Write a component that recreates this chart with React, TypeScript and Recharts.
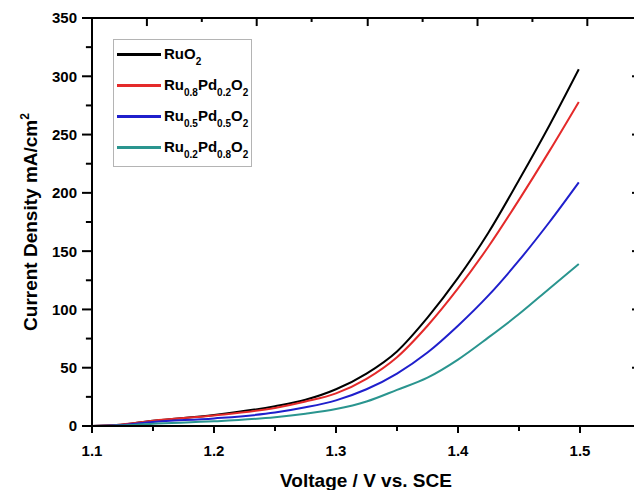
import React from "react";
import { LineChart, Line, XAxis, YAxis, Legend, ReferenceLine } from "recharts";

// values
const voltage = [1.1, 1.12, 1.15, 1.2, 1.25, 1.275, 1.3, 1.325, 1.35, 1.375, 1.4, 1.425, 1.45, 1.475, 1.499];
const ruO2 = [0, 0.8, 4.5, 9.5, 17, 22.5, 31.5, 45, 64, 93, 127, 166, 211, 258, 306];
const ru08Pd02 = [0, 0.8, 4.5, 9, 15.5, 21, 28, 40.5, 59, 86, 118, 154, 194, 236, 278];
const ru05Pd05 = [0, 0.6, 3.5, 6.5, 11.5, 16, 22, 31.5, 45, 63, 86, 112, 142, 175, 209];
const ru02Pd08 = [0, 0.4, 2, 4, 7.5, 10.5, 14.5, 21, 31, 41.5, 57, 76, 96, 118, 139];

const seriesNames = ["RuO2", "Ru0.8Pd0.2O2", "Ru0.5Pd0.5O2", "Ru0.2Pd0.8O2"];
const seriesKeys = ["a", "b", "c", "d"];
const seriesColors = ["#000000", "#e42a2a", "#1f1fcc", "#2a958f"];

const xTicks = [1.1, 1.15, 1.2, 1.25, 1.3, 1.35, 1.4, 1.45, 1.5];
const yTicks = [0, 25, 50, 75, 100, 125, 150, 175, 200, 225, 250, 275, 300, 325, 350];
const topTicks = [1.145, 1.19, 1.235, 1.28, 1.326, 1.371, 1.416, 1.461, 1.506];
const rightTicks = [50, 100, 150, 200, 250, 300];

const X_MIN = 1.1;
const X_MAX = 1.55;
const Y_MAX = 350;

const data = voltage.map((v, i) => ({
  v,
  a: ruO2[i],
  b: ru08Pd02[i],
  c: ru05Pd05[i],
  d: ru02Pd08[i],
}));

const font = "'Liberation Sans', Arial, Helvetica, sans-serif";
const isMajorX = (v: number) => Math.abs(v * 10 - Math.round(v * 10)) < 1e-6;
const frame = { stroke: "#000", strokeWidth: 2 };

// tick lengths, in axis units (about 1220 px per volt, 1.166 px per mA/cm2)
const bottomLen = (v: number) => (isMajorX(v) ? 6 : 4.3);
const leftLen = (v: number) => (v % 50 === 0 ? 0.0082 : 0.005);
const topLen = (i: number) => (i % 2 === 0 ? 6.9 : 3.4);
const rightLen = 0.0074;

const BottomTick = (props: any) => {
  const { x, y, payload } = props;
  if (!isMajorX(payload.value)) return <g />;
  return (
    <text x={x} y={y} dy="0.71em" textAnchor="middle" fontFamily={font} fontWeight={700} fontSize={15} fill="#000">
      {payload.value.toFixed(1)}
    </text>
  );
};

const LeftTick = (props: any) => {
  const { x, y, payload } = props;
  if (payload.value % 50 !== 0) return <g />;
  return (
    <text x={x} y={y} dy="0.36em" textAnchor="end" fontFamily={font} fontWeight={700} fontSize={15} fill="#000">
      {payload.value}
    </text>
  );
};

const formula = (name: string) =>
  name.split(/(\d+(?:\.\d+)?)/).map((part, i) =>
    i % 2 === 1 ? (
      <span key={i} style={{ fontSize: 10, position: "relative", top: 6 }}>
        {part}
      </span>
    ) : (
      <span key={i}>{part}</span>
    )
  );

const LegendBox = () => (
  <div
    style={{
      width: 139,
      height: 128,
      boxSizing: "border-box",
      border: "1px solid #b4b4b4",
      background: "#fff",
      fontFamily: font,
      fontWeight: 700,
      fontSize: 15,
      color: "#000",
    }}
  >
    {seriesNames.map((n, i) => (
      <div key={n} style={{ height: 31, display: "flex", alignItems: "center", marginTop: i === 0 ? -1 : 0 }}>
        <div style={{ marginLeft: 3, width: 44, height: 2.5, background: seriesColors[i] }} />
        <span style={{ marginLeft: 3, whiteSpace: "nowrap", lineHeight: "15px" }}>{formula(n)}</span>
      </div>
    ))}
  </div>
);

export default function App() {
  return (
    <div style={{ position: "absolute", left: 0, top: 0, width: 634, height: 490, overflow: "hidden", background: "#fff" }}>
      <LineChart width={645} height={490} data={data} margin={{ top: 18, right: 4, bottom: 0, left: 0 }}>
        <XAxis
          dataKey="v"
          type="number"
          domain={[X_MIN, X_MAX]}
          ticks={xTicks}
          interval={0}
          height={64}
          tickSize={7}
          tickMargin={12}
          tickLine={false}
          axisLine={frame}
          tick={BottomTick}
          label={() => (
            <text x={366} y={487} textAnchor="middle" fontFamily={font} fontWeight={700} fontSize={19} fill="#000">
              Voltage / V vs. SCE
            </text>
          )}
        />
        <YAxis
          type="number"
          domain={[0, Y_MAX]}
          ticks={yTicks}
          interval={0}
          width={92}
          tickSize={9}
          tickMargin={6}
          tickLine={false}
          axisLine={frame}
          tick={LeftTick}
          label={() => (
            <text
              transform="translate(37, 222) rotate(-90)"
              textAnchor="middle"
              fontFamily={font}
              fontWeight={700}
              fontSize={19}
              fill="#000"
            >
              Current Density mA/cm
              <tspan dy={-8} fontSize={12}>
                2
              </tspan>
            </text>
          )}
        />
        <Legend
          layout="vertical"
          align="center"
          verticalAlign="middle"
          wrapperStyle={{ left: 113, top: 39, width: 139 }}
          content={LegendBox}
        />
        {/* top frame line */}
        <ReferenceLine
          segment={[
            { x: X_MIN, y: Y_MAX },
            { x: X_MAX, y: Y_MAX },
          ]}
          {...frame}
          ifOverflow="visible"
        />
        {xTicks.map((t) => (
          <ReferenceLine
            key={`b${t}`}
            segment={[
              { x: t, y: 0 },
              { x: t, y: -bottomLen(t) },
            ]}
            {...frame}
            ifOverflow="visible"
          />
        ))}
        {yTicks.map((t) => (
          <ReferenceLine
            key={`l${t}`}
            segment={[
              { x: X_MIN - leftLen(t), y: t },
              { x: X_MIN, y: t },
            ]}
            {...frame}
            ifOverflow="visible"
          />
        ))}
        {topTicks.map((t, i) => (
          <ReferenceLine
            key={`t${t}`}
            segment={[
              { x: t, y: Y_MAX },
              { x: t, y: Y_MAX - topLen(i) },
            ]}
            {...frame}
            ifOverflow="visible"
          />
        ))}
        {rightTicks.map((t) => (
          <ReferenceLine
            key={`r${t}`}
            segment={[
              { x: X_MAX - rightLen, y: t },
              { x: X_MAX, y: t },
            ]}
            {...frame}
            ifOverflow="visible"
          />
        ))}
        {seriesKeys.map((k, i) => (
          <Line
            key={k}
            dataKey={k}
            name={seriesNames[i]}
            type="monotone"
            stroke={seriesColors[i]}
            strokeWidth={2}
            dot={false}
            isAnimationActive={false}
          />
        ))}
      </LineChart>
    </div>
  );
}
